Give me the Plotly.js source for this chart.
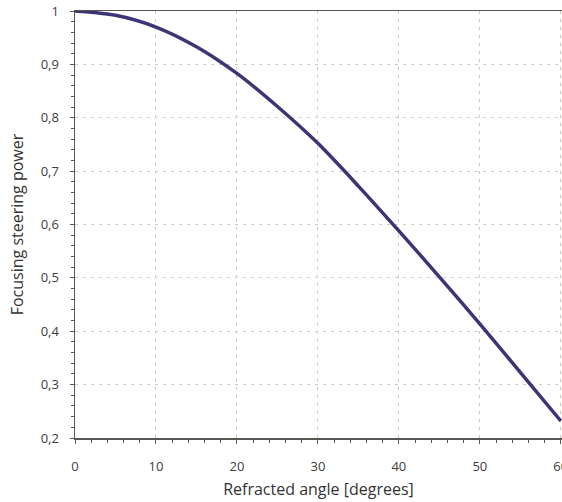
<!DOCTYPE html>
<html>
<head>
<meta charset="utf-8">
<script src="https://cdn.plot.ly/plotly-3.0.1.min.js"></script>
<style>
  html, body { margin: 0; padding: 0; background: #fff; overflow: hidden; }
  #chart { width: 562px; height: 502px; }
</style>
</head>
<body>
<div id="chart"></div>
<script>
// Refracted angle (degrees) and the corresponding focusing steering power
const angleDeg = [0, 5, 10, 15, 20, 25, 30, 35, 40, 45, 50, 55, 60];
const steeringPower = [1.0, 0.992, 0.970, 0.933, 0.883, 0.821, 0.752, 0.672, 0.588, 0.502, 0.414, 0.323, 0.232];

const xTitle = 'Refracted angle [degrees]';
const yTitle = 'Focusing steering power';

const fontFamily = 'Open Sans, Noto Sans, sans-serif';
const tickFont = { family: fontFamily, size: 13, color: '#3c3c3c' };
const titleFont = { family: fontFamily, size: 16, color: '#333333' };
const gridColor = '#cfcbc3';
const lineColor = '#5a5550';

const trace = {
  x: angleDeg,
  y: steeringPower,
  type: 'scatter',
  mode: 'lines',
  line: { color: '#3a3575', width: 3.5, shape: 'spline', smoothing: 0.8 },
  hoverinfo: 'skip'
};

const layout = {
  width: 562,
  height: 502,
  margin: { l: 75, r: 0, t: 11, b: 64 },
  paper_bgcolor: '#ffffff',
  plot_bgcolor: '#ffffff',
  separators: ',.',
  showlegend: false,
  font: tickFont,
  xaxis: {
    range: [0, 60.15],
    tick0: 0,
    dtick: 10,
    showline: true,
    linecolor: lineColor,
    linewidth: 1.5,
    mirror: true,
    ticks: 'outside',
    ticklen: 4,
    tickcolor: lineColor,
    ticklabelstandoff: 12,
    ticklabeloverflow: 'allow',
    showgrid: true,
    gridcolor: gridColor,
    gridwidth: 1,
    griddash: '3px,5px',
    zeroline: false,
    minor: { dtick: 2, ticks: 'outside', ticklen: 3, tickcolor: lineColor, showgrid: false },
    tickfont: tickFont,
    title: { text: xTitle, font: titleFont, standoff: 9 }
  },
  yaxis: {
    range: [0.2, 1.0],
    tick0: 0.2,
    dtick: 0.1,
    showline: true,
    linecolor: lineColor,
    linewidth: 1.5,
    mirror: false,
    ticks: 'outside',
    ticklen: 4,
    tickcolor: lineColor,
    ticklabelstandoff: 8,
    showgrid: true,
    gridcolor: gridColor,
    gridwidth: 1,
    griddash: '3px,5px',
    zeroline: false,
    minor: { dtick: 0.02, ticks: 'outside', ticklen: 3, tickcolor: lineColor, showgrid: false },
    tickfont: tickFont,
    title: { text: yTitle, font: titleFont, standoff: 13 }
  }
};

Plotly.newPlot('chart', [trace], layout, { staticPlot: true, displayModeBar: false });
</script>
</body>
</html>
